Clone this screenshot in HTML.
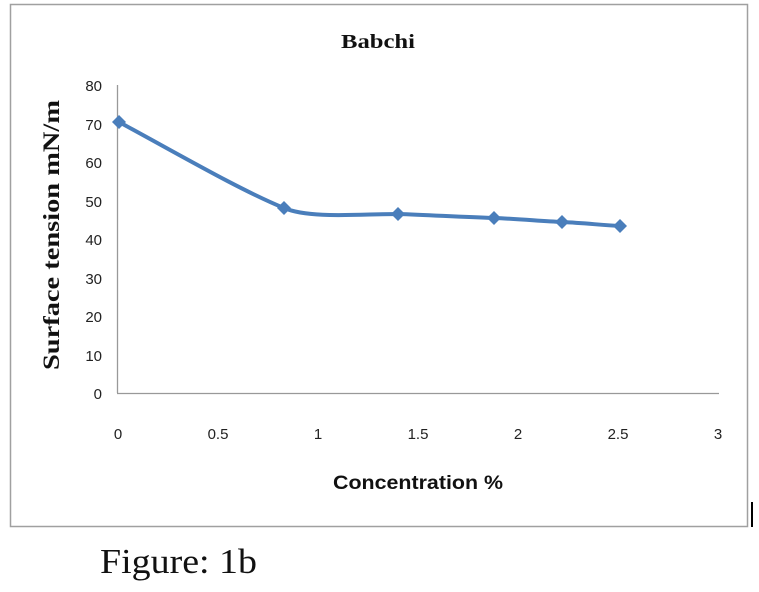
<!DOCTYPE html>
<html><head><style>
body{margin:0;background:#fff;width:759px;height:587px;overflow:hidden}
</style></head><body>
<svg width="759" height="587" viewBox="0 0 759 587" xmlns="http://www.w3.org/2000/svg">
<rect x="10.5" y="4.5" width="737" height="522" fill="#fff" stroke="#a0a0a0" stroke-width="1.5"/>
<rect x="751" y="502" width="2" height="25" fill="#000"/>
<text x="341" y="48" textLength="74" lengthAdjust="spacingAndGlyphs" font-family="Liberation Serif,serif" font-weight="bold" font-size="20" fill="#111">Babchi</text>
<line x1="117.5" y1="85" x2="117.5" y2="393" stroke="#999" stroke-width="1.3"/>
<line x1="117" y1="393.5" x2="719" y2="393.5" stroke="#999" stroke-width="1.3"/>
<g font-family="Liberation Sans,sans-serif" font-size="15" fill="#222" text-anchor="end">
<text x="102" y="91">80</text><text x="102" y="130">70</text><text x="102" y="168">60</text>
<text x="102" y="207">50</text><text x="102" y="245">40</text><text x="102" y="284">30</text>
<text x="102" y="322">20</text><text x="102" y="361">10</text><text x="102" y="399">0</text>
</g>
<g font-family="Liberation Sans,sans-serif" font-size="15" fill="#222" text-anchor="middle">
<text x="118" y="439">0</text><text x="218" y="439">0.5</text><text x="318" y="439">1</text>
<text x="418" y="439">1.5</text><text x="518" y="439">2</text><text x="618" y="439">2.5</text><text x="718" y="439">3</text>
</g>
<text x="333" y="489" textLength="170" lengthAdjust="spacingAndGlyphs" font-family="Liberation Sans,sans-serif" font-weight="bold" font-size="19" fill="#111">Concentration %</text>
<text transform="translate(59,370) rotate(-90)" textLength="270" lengthAdjust="spacingAndGlyphs" font-family="Liberation Serif,serif" font-weight="bold" font-size="23" fill="#111">Surface tension mN/m</text>
<path d="M119,122 C180,155 240,190 284,208 C310,219 360,214 398,214 C430,215 460,217 494,218 C520,219 540,221 562,222 C585,223 600,225 620,226" fill="none" stroke="#4a7ebb" stroke-width="4" stroke-linecap="round"/>
<g fill="#4a7ebb">
<path d="M119,115 l7,7 l-7,7 l-7,-7z"/>
<path d="M284,201 l7,7 l-7,7 l-7,-7z"/>
<path d="M398,207 l7,7 l-7,7 l-7,-7z"/>
<path d="M494,211 l7,7 l-7,7 l-7,-7z"/>
<path d="M562,215 l7,7 l-7,7 l-7,-7z"/>
<path d="M620,219 l7,7 l-7,7 l-7,-7z"/>
</g>
<text x="100" y="573" textLength="157" lengthAdjust="spacingAndGlyphs" font-family="Liberation Serif,serif" font-size="35" fill="#111">Figure: 1b</text>
</svg>
</body></html>
